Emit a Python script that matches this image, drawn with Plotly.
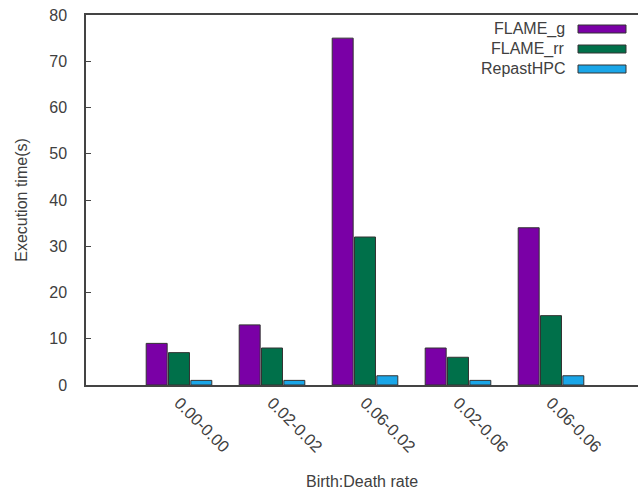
import plotly.graph_objects as go

# Birth:Death rate settings and measured execution times (seconds)
categories = ["0.00-0.00", "0.02-0.02", "0.06-0.02", "0.02-0.06", "0.06-0.06"]
series_names = ["FLAME_g", "FLAME_rr", "RepastHPC"]
flame_g = [9, 13, 75, 8, 34]
flame_rr = [7, 8, 32, 6, 15]
repast_hpc = [1, 1, 2, 1, 2]
y_ticks = [0, 10, 20, 30, 40, 50, 60, 70, 80]

colors = ["#7a00a6", "#00704a", "#1aa6e8"]
series_values = [flame_g, flame_rr, repast_hpc]

W, H = 638, 490
L, R, T, B = 86, 0, 15, 105
FONT = "Liberation Sans"
TXT = "#404040"

x_pos = list(range(len(categories)))

fig = go.Figure()
for name, vals, col in zip(series_names, series_values, colors):
    fig.add_trace(go.Bar(
        x=x_pos, y=vals, name=name,
        marker=dict(color=col, line=dict(color="#333333", width=1)),
        showlegend=False,
    ))

# key in the upper right: right-aligned names with swatches after them
plot_w = W - L - R
plot_h = H - T - B
def px_x(px):
    return (px - L) / plot_w
def px_y(py):
    return (H - B - py) / plot_h

for i, (name, col) in enumerate(zip(series_names, colors)):
    yc = 29 + 20 * i
    fig.add_annotation(
        xref="paper", yref="paper", x=px_x(567), y=px_y(yc),
        text=name, showarrow=False, xanchor="right", yanchor="middle",
        font=dict(family=FONT, size=16, color=TXT),
    )
    fig.add_shape(
        type="rect", xref="paper", yref="paper",
        x0=px_x(578), x1=px_x(626), y0=px_y(yc + 4), y1=px_y(yc - 4),
        fillcolor=col, line=dict(color="#333333", width=1),
    )

fig.update_layout(
    width=W, height=H,
    margin=dict(l=L, r=R, t=T, b=B, pad=0, autoexpand=False),
    paper_bgcolor="white", plot_bgcolor="white",
    barmode="group", bargap=0.28, bargroupgap=0.06,
    font=dict(family=FONT, size=16, color=TXT),
)

fig.update_xaxes(
    range=[-1, -1 + plot_w / 93.0], automargin=False,
    tickmode="array", tickvals=x_pos, ticktext=categories,
    tickangle=45, ticks="", showgrid=False, zeroline=False,
    showline=True, linecolor="#444444", linewidth=1.5, mirror=True,
    ticklabelstandoff=0,
    tickfont=dict(family=FONT, size=16.5, color=TXT),
    title=dict(text="Birth:Death rate", standoff=24,
               font=dict(family=FONT, size=16, color=TXT)),
)
fig.update_yaxes(
    range=[0, 80], automargin=False, tickmode="array", tickvals=y_ticks,
    ticks="inside", ticklen=5, tickcolor="#444444",
    showgrid=False, zeroline=False,
    showline=True, linecolor="#444444", linewidth=1.5,
    ticklabelstandoff=14,
    title=dict(text="Execution time(s)", standoff=18,
               font=dict(family=FONT, size=16, color=TXT)),
)

fig.write_html("out.html")
